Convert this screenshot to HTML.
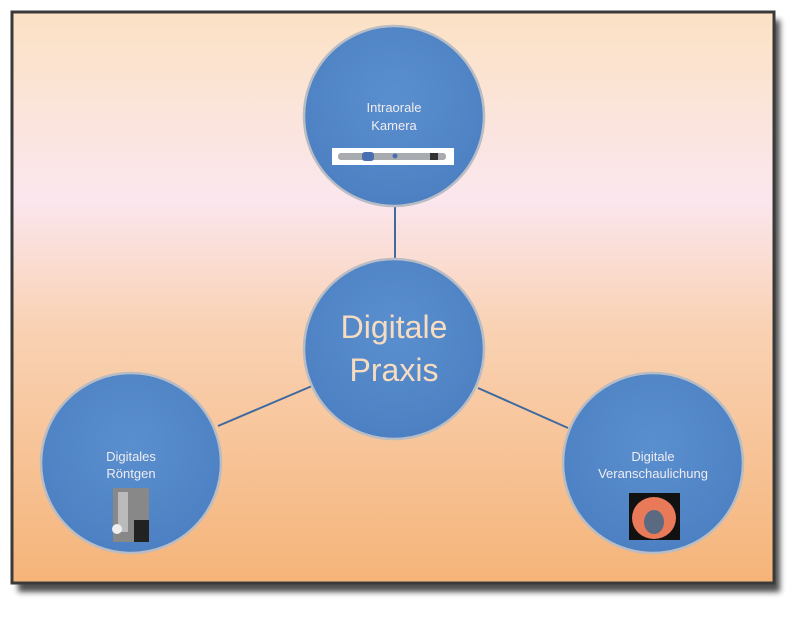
<!DOCTYPE html>
<html><head><meta charset="utf-8"><style>
html,body{margin:0;padding:0;background:#fff;width:806px;height:617px;overflow:hidden}
svg{display:block}
text{font-family:"Liberation Sans",sans-serif}
</style></head><body>
<svg width="806" height="617" viewBox="0 0 806 617" xmlns="http://www.w3.org/2000/svg">
<defs>
<linearGradient id="bg" x1="0" y1="0" x2="0" y2="1">
<stop offset="0" stop-color="#fbe2c4"/>
<stop offset="0.33" stop-color="#fbe6ee"/>
<stop offset="0.55" stop-color="#f9d2b4"/>
<stop offset="1" stop-color="#f5b479"/>
</linearGradient>
<radialGradient id="cg" cx="0.5" cy="0.4" r="0.6">
<stop offset="0" stop-color="#5a8fcf"/>
<stop offset="1" stop-color="#4c80c2"/>
</radialGradient>
<filter id="sh" x="-5%" y="-5%" width="115%" height="115%"><feGaussianBlur stdDeviation="3"/></filter>
</defs>
<rect x="18" y="20" width="762" height="572" fill="#222" opacity="0.8" filter="url(#sh)"/>
<rect x="12" y="12" width="762" height="571" fill="url(#bg)" stroke="#3a3a3a" stroke-width="3"/>
<g stroke="#3f6aa0" stroke-width="2">
<line x1="395" y1="205" x2="395" y2="262"/>
<line x1="218" y1="426" x2="312" y2="386"/>
<line x1="478" y1="388" x2="568" y2="428"/>
</g>
<g fill="url(#cg)" stroke="#b8bcc4" stroke-width="2.5">
<circle cx="394" cy="116" r="90"/>
<circle cx="394" cy="349" r="90"/>
<circle cx="131" cy="463" r="90"/>
<circle cx="653" cy="463" r="90"/>
</g>
<g fill="#f0ecf0" font-size="13" text-anchor="middle">
<text x="394" y="112">Intraorale</text>
<text x="394" y="130">Kamera</text>
<text x="131" y="461">Digitales</text>
<text x="131" y="478">Röntgen</text>
<text x="653" y="461">Digitale</text>
<text x="653" y="478">Veranschaulichung</text>
</g>
<g fill="#f8dcc0" font-size="32" text-anchor="middle">
<text x="394" y="338">Digitale</text>
<text x="394" y="381">Praxis</text>
</g>
<rect x="332" y="148" width="122" height="17" fill="#fff"/>
<rect x="338" y="153" width="108" height="7" rx="3" fill="#a8acb0"/>
<rect x="362" y="152" width="12" height="9" rx="3" fill="#4a6fb0"/>
<circle cx="395" cy="156" r="2.5" fill="#4a6fb0"/>
<rect x="430" y="153" width="8" height="7" fill="#333"/>
<rect x="113" y="488" width="36" height="54" fill="#888"/>
<rect x="118" y="492" width="10" height="40" fill="#bbb"/>
<rect x="134" y="520" width="15" height="22" fill="#222"/>
<circle cx="117" cy="529" r="5" fill="#eee"/>
<rect x="629" y="493" width="51" height="47" fill="#111"/>
<ellipse cx="654" cy="518" rx="22" ry="21" fill="#e87a5a"/>
<ellipse cx="654" cy="522" rx="10" ry="12" fill="#5a6a80"/>
</svg>
</body></html>
